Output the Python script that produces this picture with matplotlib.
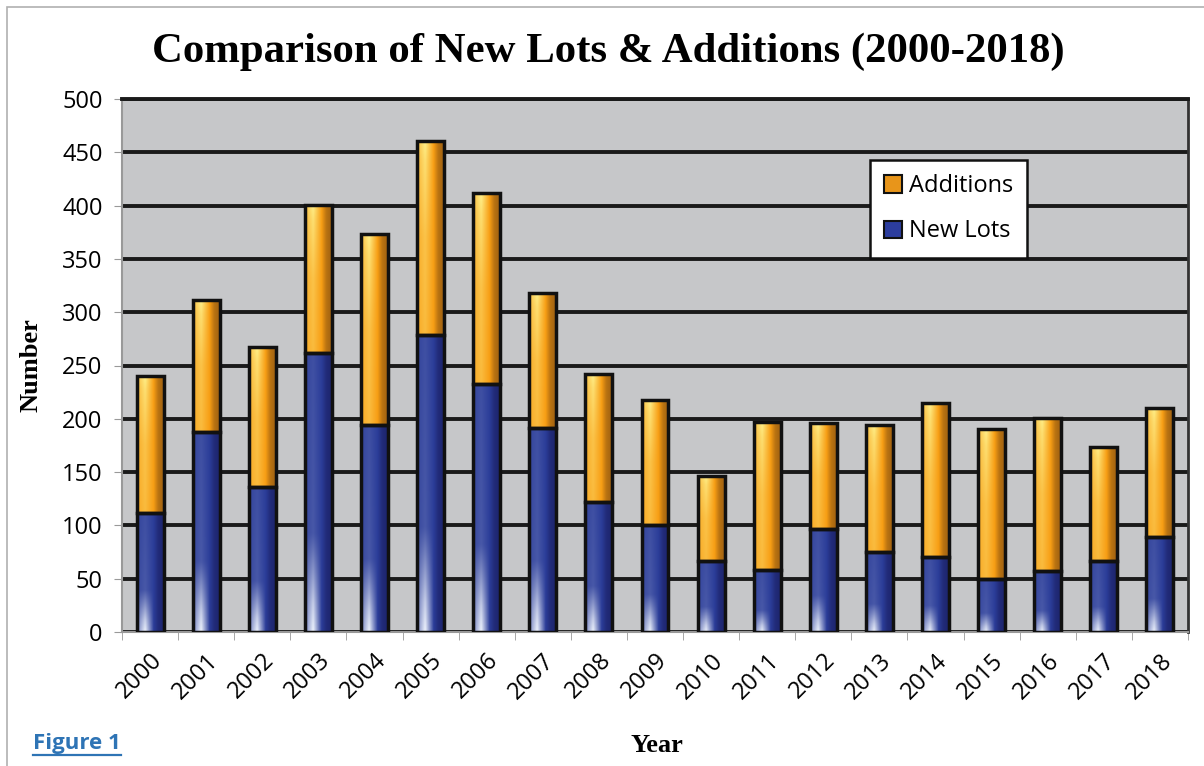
import numpy as np
import matplotlib.pyplot as plt
from matplotlib.patches import Patch, Rectangle

years = ['2000', '2001', '2002', '2003', '2004', '2005', '2006', '2007', '2008', '2009',
         '2010', '2011', '2012', '2013', '2014', '2015', '2016', '2017', '2018']
new_lots = [112, 188, 136, 262, 194, 279, 233, 191, 122, 100,
            67, 58, 97, 75, 70, 50, 57, 67, 89]
additions = [128, 123, 131, 139, 179, 182, 179, 127, 120, 118,
             79, 139, 99, 119, 145, 140, 144, 107, 121]
yticks = [0, 50, 100, 150, 200, 250, 300, 350, 400, 450, 500]


def bevel_image(base, light, dark, bright_top):
    # horizontal shading: lit left-centre, dark right edge
    u = np.linspace(0, 1, 40)
    h = np.interp(u, [0, 0.12, 0.3, 0.6, 0.8, 1.0], [0.25, 0.45, 0.7, 0.05, -0.5, -0.7])
    v = np.linspace(0, 1, 120)  # 0 = bottom, 1 = top
    if bright_top:
        vv = np.interp(v, [0, 0.5, 0.9, 1.0], [0.35, 0.45, 0.8, 1.0])
    else:
        vv = np.interp(v, [0, 0.1, 0.35, 1.0], [1.0, 0.8, 0.15, 0.1])
    base = np.array(base)
    light = np.array(light)
    dark = np.array(dark)
    img = np.zeros((len(v), len(u), 3))
    for i in range(len(v)):
        for j in range(len(u)):
            if h[j] > 0:
                t = h[j] * vv[i] * 1.4
                c = base + (light - base) * min(t, 1)
            else:
                c = base + (dark - base) * min(-h[j], 1)
            img[i, j] = c
    return img[::-1]


blue_img = bevel_image((0.17, 0.24, 0.60), (0.95, 0.97, 1.0), (0.09, 0.10, 0.35), False)
orange_img = bevel_image((0.97, 0.62, 0.08), (1.0, 0.95, 0.55), (0.48, 0.28, 0.06), True)

fig = plt.figure(figsize=(12.04, 7.66), dpi=100)
ax = fig.add_axes([122 / 1204, 1 - 632 / 766, 1066 / 1204, 533 / 766])
ax.set_facecolor('#c6c7c9')

x = np.arange(len(years))
width = 0.48
b1 = ax.bar(x, new_lots, width, color='none', edgecolor='#111111', linewidth=2.5, zorder=4)
b2 = ax.bar(x, additions, width, bottom=new_lots, color='none', edgecolor='#111111',
            linewidth=2.5, zorder=4)

for bars, img in [(b1, blue_img), (b2, orange_img)]:
    for p in bars:
        x0, y0 = p.get_x(), p.get_y()
        im = ax.imshow(img, extent=[x0, x0 + p.get_width(), y0, y0 + p.get_height()],
                       aspect='auto', zorder=3, interpolation='bilinear')
        im.set_clip_path(p)

ax.set_xlim(-0.5, len(years) - 0.5)
ax.set_ylim(0, 500)
ax.set_yticks(yticks)
ax.set_yticklabels([str(t) for t in yticks], fontsize=17, family='Open Sans')
ax.yaxis.grid(True, color='#1a1a1a', linewidth=2.8, zorder=1)
ax.set_axisbelow(True)

ax.set_xticks(x)
ax.set_xticklabels(years, rotation=45, ha='right', rotation_mode='anchor',
                   fontsize=17, family='Open Sans')
ax.tick_params(axis='x', length=0, pad=12)
ax.set_xticks(np.arange(-0.5, len(years)), minor=True)
ax.tick_params(axis='x', which='minor', length=6, color='#999999')
ax.tick_params(axis='y', length=6, color='#999999', pad=8)

for s in ['left', 'bottom']:
    ax.spines[s].set_color('#999999')
    ax.spines[s].set_linewidth(1.5)
ax.spines['top'].set_color('#1a1a1a')
ax.spines['top'].set_linewidth(2.8)
ax.spines['right'].set_color('#333333')
ax.spines['right'].set_linewidth(2)

ax.set_ylabel('Number', family='Liberation Serif', fontweight='bold', fontsize=19, labelpad=14)
fig.text(657 / 1204, 1 - 745 / 766, 'Year', family='Liberation Serif', fontweight='bold',
         fontsize=19, ha='center', va='center')
fig.text(608 / 1204, 1 - 52 / 766, 'Comparison of New Lots & Additions (2000-2018)',
         family='Liberation Serif', fontweight='bold', fontsize=30.8, ha='center', va='center')
fig.text(33 / 1204, 1 - 743 / 766, 'Figure 1', family='Open Sans', fontweight='bold',
         fontsize=16, color='#2e74b5', ha='left', va='center')
fig.add_artist(plt.Line2D([33 / 1204, 121 / 1204], [1 - 755 / 766, 1 - 755 / 766],
                          color='#2e74b5', linewidth=1.6))
fig.add_artist(Rectangle((7 / 1204, -0.01), 1.1, 1 - 7 / 766 + 0.01, fill=False,
                         edgecolor='#b0b0b0', linewidth=1.2))

handles = [Patch(facecolor='#e8951a', edgecolor='#111111', linewidth=1.5, label='Additions'),
           Patch(facecolor='#2c3d9e', edgecolor='#111111', linewidth=1.5, label='New Lots')]
leg = ax.legend(handles=handles, loc='upper left', bbox_to_anchor=(748 / 1066, 1 - 61 / 533),
                prop={'family': 'Open Sans', 'size': 17}, frameon=True,
                fancybox=False, edgecolor='#111111', framealpha=1, borderpad=0.6,
                labelspacing=0.9, handlelength=0.75, handleheight=0.75, handletextpad=0.3,
                borderaxespad=0)
leg.get_frame().set_linewidth(1.8)
leg.set_zorder(6)

fig.savefig('out.png', dpi=100)
